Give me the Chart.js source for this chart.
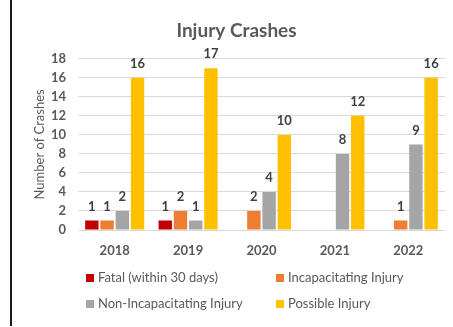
<!DOCTYPE html>
<html>
<head>
<meta charset="utf-8">
<script src="https://cdn.jsdelivr.net/npm/chart.js@4/dist/chart.umd.min.js"></script>
<style>
  html, body { margin: 0; padding: 0; background: #fff; }
  #wrap { position: relative; width: 453px; height: 327px; overflow: hidden; }
  #frame { position: absolute; left: 10px; top: 0; width: 2px; height: 326px; background: #1a1a1a; }
  #c { position: absolute; left: 0; top: 0; }
  #legend { position: absolute; left: 86px; top: 270px; width: 360px;
    font-family: Lato, "Open Sans", sans-serif; font-size: 13px; color: #595959; }
  .item { position: absolute; white-space: nowrap; line-height: 15px; }
  .box { display: inline-block; width: 8px; height: 8px; margin-right: 4px; vertical-align: 0px; }
</style>
</head>
<body>
<div id="wrap">
  <canvas id="c" width="453" height="327"></canvas>
  <div id="frame"></div>
  <div id="legend"></div>
</div>
<script>
const categories = ["2018", "2019", "2020", "2021", "2022"];
const fatal = [1, 1, 0, 0, 0];
const incapacitating = [1, 2, 2, 0, 1];
const nonIncapacitating = [2, 1, 4, 8, 9];
const possible = [16, 17, 10, 12, 16];
const seriesNames = ["Fatal (within 30 days)", "Incapacitating Injury", "Non-Incapacitating Injury", "Possible Injury"];
const seriesColors = ["#c00000", "#ed7d31", "#a5a5a5", "#ffc000"];
const yTicks = [0, 2, 4, 6, 8, 10, 12, 14, 16, 18];

const FONT = 'Lato, "Open Sans", sans-serif';

const valueLabels = {
  id: 'valueLabels',
  afterDatasetsDraw(chart) {
    const ctx = chart.ctx;
    ctx.save();
    ctx.font = 'bold 13px ' + FONT;
    ctx.fillStyle = '#404040';
    ctx.textAlign = 'center';
    ctx.textBaseline = 'middle';
    chart.data.datasets.forEach((ds, i) => {
      const meta = chart.getDatasetMeta(i);
      meta.data.forEach((el, j) => {
        const v = ds.data[j];
        if (v > 0) ctx.fillText(String(v), el.x, el.y - 14);
      });
    });
    ctx.restore();
  }
};

const allSeries = [fatal, incapacitating, nonIncapacitating, possible];

new Chart(document.getElementById('c'), {
  type: 'bar',
  data: {
    labels: categories,
    datasets: allSeries.map((d, i) => ({
      label: seriesNames[i],
      data: d,
      backgroundColor: seriesColors[i],
      borderWidth: 0,
      categoryPercentage: 0.83,
      barPercentage: 0.88
    }))
  },
  options: {
    responsive: false,
    animation: false,
    layout: { padding: { left: 28, right: 8, top: 0, bottom: 62 } },
    plugins: {
      legend: { display: false },
      tooltip: { enabled: false },
      title: {
        display: true,
        text: 'Injury Crashes',
        color: '#595959',
        font: { family: FONT, size: 19, weight: 'bold' },
        padding: { top: 19, bottom: 17 }
      }
    },
    scales: {
      x: {
        grid: { display: false, drawTicks: false },
        border: { display: false },
        ticks: { color: '#595959', font: { family: FONT, size: 13, weight: 'bold' }, padding: 13 },
        afterFit(s) { s.height = 35; }
      },
      y: {
        min: 0, max: 18,
        afterBuildTicks(s) { s.ticks = yTicks.map(v => ({ value: v })); },
        grid: { color: '#d9d9d9', drawTicks: false, lineWidth: 1 },
        border: { display: false },
        ticks: { color: '#595959', font: { family: FONT, size: 13, weight: 'bold' }, padding: 12 },
        title: {
          display: true,
          text: 'Number of Crashes',
          color: '#595959',
          font: { family: FONT, size: 13 },
          padding: { top: 4, bottom: 0 }
        },
        afterFit(s) { s.width = 50; }
      }
    }
  },
  plugins: [valueLabels]
});

const legend = document.getElementById('legend');
const pos = [[0, 0], [190, 0], [0, 26], [190, 26]];
seriesNames.forEach((n, i) => {
  const d = document.createElement('div');
  d.className = 'item';
  d.style.left = pos[i][0] + 'px';
  d.style.top = pos[i][1] + 'px';
  d.innerHTML = '<span class="box" style="background:' + seriesColors[i] + '"></span>' + n;
  legend.appendChild(d);
});
</script>
</body>
</html>
